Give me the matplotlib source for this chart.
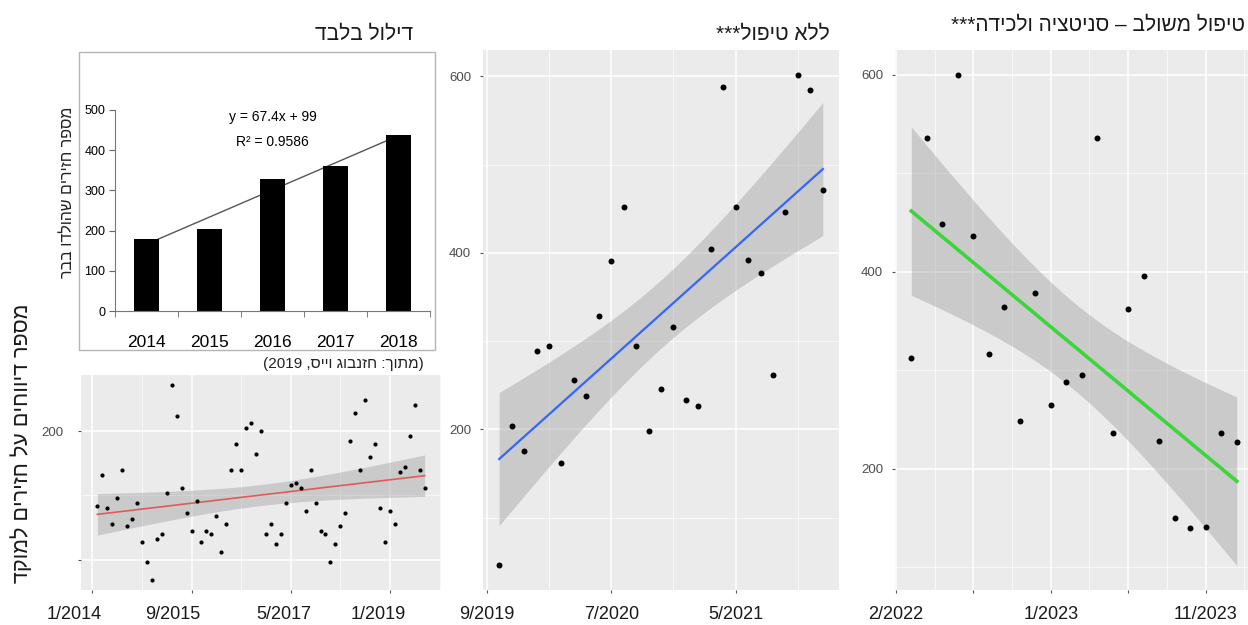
import re
import numpy as np
import matplotlib
matplotlib.use('Agg')
import matplotlib.pyplot as plt
from matplotlib import font_manager
from matplotlib.patches import Rectangle
from matplotlib.transforms import ScaledTranslation

W, H = 1248, 625

# bar chart (inset): pigs born per year
bar_years = ['2014', '2015', '2016', '2017', '2018']
bar_values = [178, 203, 328, 360, 437]

# dilution only: monthly reports, month index counted from 1/2014
dil_months = list(range(1, 68))
dil_reports = [171, 183, 170, 164, 174, 185, 163, 166, 172, 157,
               149, 142, 158, 160, 176, 218, 206, 178, 168, 161,
               173, 157, 161, 160, 167, 153, 164, 185, 195, 185,
               201, 203, 191, 200, 160, 164, 156, 160, 172, 179,
               180, 178, 169, 185, 172, 161, 160, 149, 156, 163,
               168, 196, 207, 185, 212, 190, 195, 170, 157, 169,
               164, 184, 186, 198, 210, 185, 178]
dil_ticks = [0, 20, 40, 60]
dil_labels = ['1/2014', '9/2015', '5/2017', '1/2019']

# no treatment: month index counted from 9/2019
none_months = list(range(1, 28))
none_reports = [46, 204, 176, 289, 294, 162, 256, 238, 329, 391,
                452, 294, 198, 246, 316, 233, 227, 404, 588, 452,
                392, 377, 262, 446, 602, 585, 471]
none_ticks = [0, 10, 20]
none_labels = ['9/2019', '7/2020', '5/2021']

# combined treatment: month index counted from 1/2023
comb_months = list(range(-9, 13))
comb_reports = [312, 536, 448, 600, 436, 317, 364, 249, 378, 265,
                288, 295, 536, 236, 362, 396, 228, 150, 140, 141,
                236, 227]
comb_ticks = [-10, -5, 0, 5, 10]
comb_labels = ['2/2022', '', '1/2023', '', '11/2023']

names = {f.name for f in font_manager.fontManager.ttflist}
NARROW = 'Liberation Sans Narrow' if 'Liberation Sans Narrow' in names else 'Liberation Sans'
HEB = ['Liberation Sans', 'DejaVu Sans']
plt.rcParams['font.family'] = HEB


def rtl(s):
    # matplotlib has no bidi: give it the visual order
    out = s[::-1]
    out = re.sub(r'\d+', lambda m: m.group(0)[::-1], out)
    return out.translate(str.maketrans('()', ')('))


def px_axes(fig, x0, y0, x1, y1):
    return fig.add_axes([x0 / W, 1 - y1 / H, (x1 - x0) / W, (y1 - y0) / H])


def lm_band(x, y, t_crit):
    x = np.asarray(x, float)
    y = np.asarray(y, float)
    b, a = np.polyfit(x, y, 1)
    xs = np.linspace(x.min(), x.max(), 100)
    fit = a + b * xs
    n = len(x)
    s = np.sqrt(np.sum((y - (a + b * x)) ** 2) / (n - 2))
    se = s * np.sqrt(1 / n + (xs - x.mean()) ** 2 / np.sum((x - x.mean()) ** 2))
    return xs, fit, fit - t_crit * se, fit + t_crit * se


def gg_panel(ax, x, y, t_crit, line_color, lw, msize, xlim, pad_y):
    xs, fit, lo, hi = lm_band(x, y, t_crit)
    ax.set_facecolor('#EBEBEB')
    for s in ax.spines.values():
        s.set_visible(False)
    ax.grid(which='major', color='white', lw=1.1)
    ax.grid(which='minor', color='white', lw=0.5)
    ax.set_axisbelow(True)
    ax.fill_between(xs, lo, hi, color='#999999', alpha=0.4, lw=0, zorder=2)
    ax.plot(xs, fit, color=line_color, lw=lw, zorder=3)
    ax.plot(x, y, 'o', color='black', ms=msize, mew=0, zorder=4)
    ymin = min(min(y), lo.min())
    ymax = max(max(y), hi.max())
    pad = 0.05 * (ymax - ymin)
    ax.set_ylim(ymin - pad, ymax + pad)
    ax.set_xlim(*xlim)
    ax.tick_params(which='major', length=2.5, color='#555555', labelcolor='#4D4D4D',
                   labelsize=9.5)
    ax.tick_params(axis='y', pad=pad_y)
    ax.tick_params(axis='x', labelsize=13, labelcolor='#1a1a1a', pad=9)
    ax.tick_params(which='minor', length=0)


fig = plt.figure(figsize=(W / 100, H / 100), dpi=100)

# ---- inset bar chart with frame
fig.patches.append(Rectangle((79 / W, 1 - 350 / H), 356 / W, 298 / H,
                             transform=fig.transFigure, fill=False,
                             edgecolor='#b5b5b5', lw=1.0))
axb = px_axes(fig, 115, 110, 430, 311)
xb = np.arange(1, len(bar_values) + 1)
slope, icpt = np.polyfit(xb, bar_values, 1)
axb.plot(xb, icpt + slope * xb, color='#555555', lw=1.0, zorder=1)
axb.bar(xb, bar_values, width=0.4, color='black', zorder=2)
axb.set_xlim(0.5, 5.5)
axb.set_ylim(0, 500)
axb.set_yticks([0, 100, 200, 300, 400, 500])
axb.set_xticks(xb, bar_years)
axb.set_xticks(np.arange(0.5, 6, 1), minor=True)
axb.tick_params(axis='x', which='major', length=0, pad=17)
axb.tick_params(axis='x', which='minor', length=4, color='#666666')
axb.tick_params(axis='y', length=4, color='#666666', pad=3)
for lab in axb.get_xticklabels():
    lab.set_fontfamily(NARROW)
    lab.set_fontsize(12.5)
for lab in axb.get_yticklabels():
    lab.set_fontfamily(NARROW)
    lab.set_fontsize(9)
for side in ['top', 'right']:
    axb.spines[side].set_visible(False)
for side in ['left', 'bottom']:
    axb.spines[side].set_color('#777777')
axb.set_facecolor('none')
axb.text(3.0, 483, 'y = 67.4x + 99', ha='center', va='center', fontsize=10, family=NARROW)
axb.text(3.0, 420, 'R² = 0.9586', ha='center', va='center', fontsize=10, family=NARROW)

fig.text(67 / W, 1 - 192 / H, rtl('מספר חזירים שהולדו בבר'), rotation=90,
         ha='center', va='center', fontsize=11.5, color='#222222')
fig.text(424 / W, 1 - 364 / H, rtl('(מתוך: חזנבוג וייס, 2019)'),
         ha='right', va='center', fontsize=11, color='#222222')
fig.text(413 / W, 1 - 34 / H, rtl('דילול בלבד'), ha='right', va='center',
         fontsize=15, color='#1a1a1a')

# ---- dilution only (bottom-left)
ax2 = px_axes(fig, 81, 375, 441, 590)
gg_panel(ax2, dil_months, dil_reports, 1.997, '#E05A5A', 1.2, 3.0, (-2.3, 70.3), 10)
ax2.set_xticks(dil_ticks, dil_labels)
ax2.set_xticks([10, 30, 50, 70], minor=True)
ax2.set_yticks([150, 200], ['', '200'])
ax2.set_yticks([175], minor=True)
for lab, dx in zip(ax2.get_xticklabels(), [-18, -19, -7, -12]):
    lab.set_transform(lab.get_transform() + ScaledTranslation(dx / 100, 0, fig.dpi_scale_trans))

# ---- no treatment (middle)
ax3 = px_axes(fig, 483, 50, 839, 590)
gg_panel(ax3, none_months, none_reports, 2.060, '#3366FF', 1.6, 4.3, (-0.3, 28.3), 6)
ax3.set_xticks(none_ticks, none_labels)
ax3.set_xticks([5, 15, 25], minor=True)
ax3.set_yticks([200, 400, 600])
ax3.set_yticks([100, 300, 500], minor=True)
for lab in ax3.get_yticklabels():
    lab.set_bbox(dict(facecolor='white', edgecolor='none', pad=4))
fig.text(830 / W, 1 - 34 / H, rtl('ללא טיפול***'), ha='right', va='center',
         fontsize=15, color='#1a1a1a')

# ---- combined treatment (right, runs off the edge)
ax4 = px_axes(fig, 895, 50, 1253, 590)
gg_panel(ax4, comb_months, comb_reports, 2.086, '#3CD63C', 2.6, 4.3, (-10.05, 13.05), 6)
ax4.set_xticks(comb_ticks, comb_labels)
ax4.set_xticks([-7.5, -2.5, 2.5, 7.5, 12.5], minor=True)
ax4.set_yticks([200, 400, 600])
ax4.set_yticks([100, 300, 500], minor=True)
fig.text(1245 / W, 1 - 25 / H, rtl('טיפול משולב – סניטציה ולכידה***'), ha='right',
         va='center', fontsize=15, color='#1a1a1a')

# shared y title on the far left
fig.text(22 / W, 1 - 443 / H, rtl('מספר דיווחים על חזירים למוקד'), rotation=90,
         ha='center', va='center', fontsize=15.5, color='#1a1a1a')

fig.savefig('out.png', dpi=100)
